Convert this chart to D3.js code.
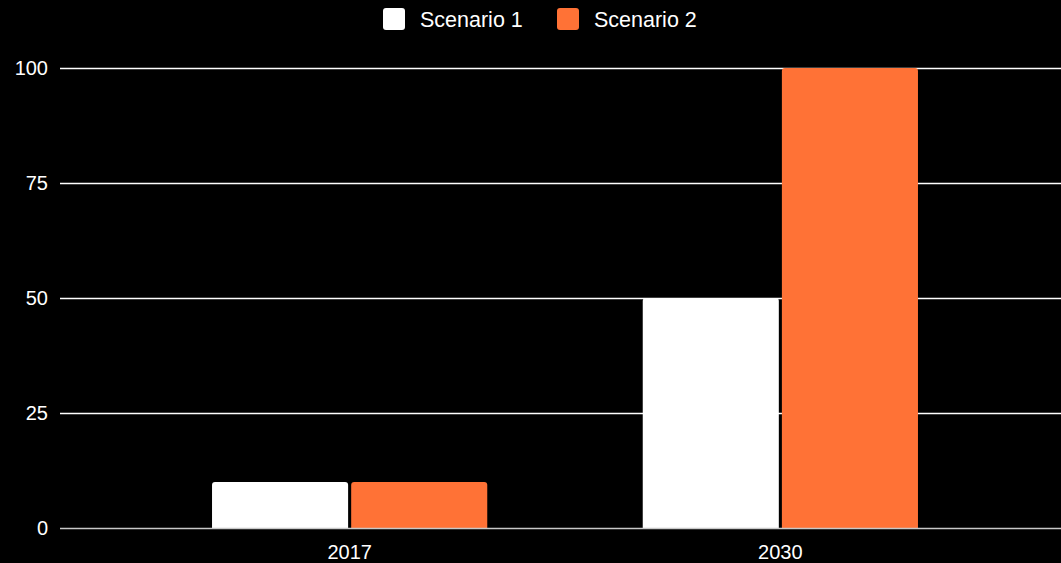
<!DOCTYPE html>
<html>
<head>
<meta charset="utf-8">
<script src="https://cdn.jsdelivr.net/npm/d3@7"></script>
<style>
    html, body { margin: 0; padding: 0; background: #000; }
    text { font-family: "Liberation Sans", Arial, sans-serif; }
</style>
</head>
<body>
<svg id="chart" width="1061" height="563"></svg>
<script>
const categories = ["2017", "2030"];
const seriesNames = ["Scenario 1", "Scenario 2"];
const scenario1 = [10, 50];
const scenario2 = [10, 100];
const yTicks = [0, 25, 50, 75, 100];
const colors = ["#ffffff", "#ff7236"];

const width = 1061, height = 563;
const svg = d3.select("#chart");

const x = d3.scaleBand()
    .domain(categories)
    .range([134.5, 995.5])
    .paddingInner(0.361)
    .paddingOuter(0.18);

const xInner = d3.scaleBand()
    .domain(seriesNames)
    .range([0, x.bandwidth()])
    .paddingInner(0.022);

const y = d3.scaleLinear().domain([0, 100]).range([528, 68]);

// gridlines
svg.append("g")
    .selectAll("line")
    .data(yTicks.filter(d => d > 0))
    .join("line")
    .attr("x1", 60)
    .attr("x2", width)
    .attr("y1", d => Math.round(y(d)) + 0.5)
    .attr("y2", d => Math.round(y(d)) + 0.5)
    .attr("stroke", "#ffffff")
    .attr("stroke-width", 1.3);

// y labels
svg.append("g")
    .selectAll("text")
    .data(yTicks)
    .join("text")
    .attr("x", 48)
    .attr("y", d => y(d))
    .attr("dy", "0.35em")
    .attr("text-anchor", "end")
    .attr("fill", "#ffffff")
    .attr("font-size", 20)
    .text(d => d);

// bars
const rows = categories.map((c, i) => ({ cat: c, vals: [scenario1[i], scenario2[i]] }));
const r = 3;
const barPath = (x0, w, yTop, yBot) =>
    `M${x0},${yBot}V${yTop + r}Q${x0},${yTop} ${x0 + r},${yTop}H${x0 + w - r}Q${x0 + w},${yTop} ${x0 + w},${yTop + r}V${yBot}Z`;

svg.append("g")
    .selectAll("g")
    .data(rows)
    .join("g")
    .attr("transform", d => `translate(${x(d.cat)},0)`)
    .selectAll("path")
    .data(d => d.vals.map((v, j) => ({ name: seriesNames[j], v, j })))
    .join("path")
    .attr("d", d => barPath(xInner(d.name), xInner.bandwidth(), y(d.v), y(0)))
    .attr("fill", d => colors[d.j]);

// baseline
svg.append("line")
    .attr("x1", 60)
    .attr("x2", width)
    .attr("y1", 528.5)
    .attr("y2", 528.5)
    .attr("stroke", "#c8c8c8")
    .attr("stroke-width", 1.5);

// x labels
svg.append("g")
    .selectAll("text")
    .data(categories)
    .join("text")
    .attr("x", d => x(d) + x.bandwidth() / 2)
    .attr("y", 559)
    .attr("text-anchor", "middle")
    .attr("fill", "#ffffff")
    .attr("font-size", 20)
    .text(d => d);

// legend
const legendItems = [{ name: seriesNames[0], x: 383 }, { name: seriesNames[1], x: 557 }];
const lg = svg.append("g")
    .selectAll("g")
    .data(legendItems)
    .join("g")
    .attr("transform", d => `translate(${d.x},8)`);
lg.append("rect")
    .attr("width", 22)
    .attr("height", 22)
    .attr("rx", 3)
    .attr("fill", (d, i) => colors[i]);
lg.append("text")
    .attr("x", 37)
    .attr("y", 11)
    .attr("dy", "0.35em")
    .attr("fill", "#ffffff")
    .attr("font-size", 21.5)
    .text(d => d.name);
</script>
</body>
</html>
